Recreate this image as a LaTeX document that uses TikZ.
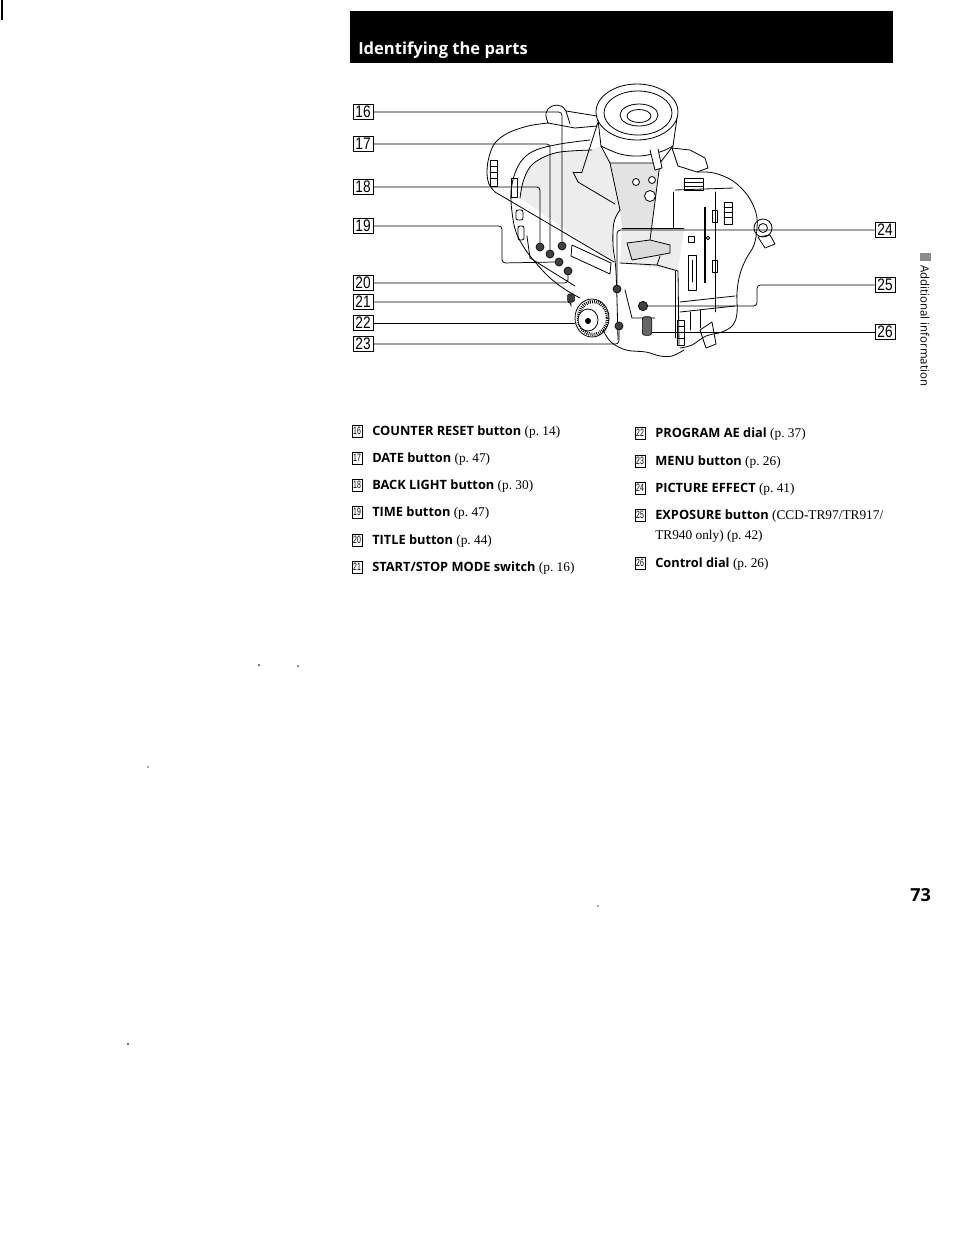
\documentclass[tikz,border=0pt]{standalone}
\usepackage{fontspec}
\usepackage{graphicx}
\setmainfont{Liberation Serif}
\newfontfamily\hsf{Open Sans}
\newfontfamily\numf{Liberation Sans}
\tikzset{
 lead/.style={line width=0.55pt, rounded corners=2.5pt},
 cam/.style={line width=0.6pt, line join=round, line cap=round},
 numbox/.style={draw, line width=0.6pt, minimum width=15pt, minimum height=11.5pt, inner sep=0pt, font=\numf\fontsize{12.5}{12.5}\selectfont},
 btn/.style={circle, draw, fill=black!75, line width=0.5pt, minimum size=6pt, inner sep=0pt},
 item/.style={anchor=base west, inner sep=0pt, font=\fontsize{10}{11}\selectfont},
 lbox/.style={draw, line width=0.45pt, minimum width=7.5pt, minimum height=9pt, inner sep=0pt, font=\numf\fontsize{8}{8}\selectfont},
 speck/.style={fill=black!70},
 shade/.style={fill=black!7},
}
\newcommand{\nb}[1]{\scalebox{0.82}[1]{#1}}
\newcommand{\lb}[1]{\scalebox{0.65}[1]{#1}}
\newcommand{\bs}[1]{{\hsf\bfseries\fontsize{9.6}{11}\selectfont #1}}
\begin{document}
\begin{tikzpicture}[x=0.75pt,y=-0.75pt]
\useasboundingbox (0,0) rectangle (954,1233);
\fill[white] (0,0) rectangle (954,1233);
\fill[black] (1,0) rectangle (3,20);
% header
\fill[black] (350,11) rectangle (893,63);
\node[anchor=base west, text=white, inner sep=0pt, font=\hsf\bfseries\fontsize{12.4}{13}\selectfont] (hdr) at (358,54) {Identifying the parts};

% ---------- camera drawing ----------
% light stipple areas
\fill[shade] plot[smooth,tension=0.6] coordinates {(520,198) (523,182) (530,167) (542,158) (560,152) (592,150)} -- (601,146) -- (610,163) -- (620,210) -- (614,222) -- (613,262) -- cycle;
\fill[black!11] (610,163) -- (660,163) -- (650,240) -- (622,228) -- (620,210) -- cycle;
\fill[shade] (622,228) -- (684,228) -- (678,271) -- (620,263) -- cycle;
% eyecup
\draw[cam] (637,112) ellipse [x radius=41, y radius=28];
\draw[cam] (638,113) ellipse [x radius=34, y radius=22];
\draw[cam] (639,115) ellipse [x radius=19, y radius=11];
\draw[cam] (639,116) ellipse [x radius=12, y radius=6.5];
% collar under cup
\draw[cam] (598,120) -- (601,146);
\draw[cam] (677,118) -- (673,146);
\draw[cam] plot[smooth,tension=0.6] coordinates {(601,146) (620,154) (640,156) (660,152) (673,146)};
% hood bump and top
\draw[cam] plot[smooth,tension=0.7] coordinates {(548,123) (546,113) (552,106) (561,106) (566,111)};
\draw[cam] (566,111) -- (597,116);
\draw[cam] (548,123) -- (575,128) -- (597,126);
\draw[cam] (566,111) -- (570,124);
% body top-left edge
\draw[cam] plot[smooth,tension=0.6] coordinates {(548,123) (528,126) (508,133) (495,143) (489,157) (487,172) (489,184) (495,192)};
% strap / grip
\draw[cam] plot[smooth,tension=0.6] coordinates {(590,140) (560,144) (536,150) (523,159) (515,173) (511,192) (512,212) (516,232) (525,249) (536,263) (550,278) (566,290) (580,298)};
\draw[cam] plot[smooth,tension=0.6] coordinates {(592,150) (560,152) (542,158) (530,167) (523,182) (520,198)};
% main diagonal
\draw[cam] (495,192) -- (614,262);
% loops and slots
\draw[cam] (490,160) rectangle (497,186);
\draw[cam] (490,166) -- (497,166) (490,172) -- (497,172) (490,178) -- (497,178);
\draw[cam] (511,178) rectangle (517,197);
\draw[cam,rounded corners=1.5pt] (516,210) rectangle (523,220);
\draw[cam,rounded corners=1.5pt] (518,226) rectangle (524,240);
% button panel
\draw[cam] (527,236) -- (530,258) -- (575,286);
% LCD
\draw[cam, fill=white] (572,245) -- (611,263) -- (610,274) -- (571,256) -- cycle;
% viewfinder barrel and support
\draw[cam] (598,122) -- (582,172);
\draw[cam] (573,172) -- (582,172);
\draw[cam] (573,172) -- (578,182) -- (615,204);
\draw[cam] (601,146) -- (610,163) -- (660,163) -- (673,146);
\draw[cam] (610,163) -- (620,210);
\draw[cam] (660,163) -- (650,240);
\draw[cam] (622,228) -- (684,228);
\draw[cam, fill=black!14] (627,243) -- (650,240) -- (670,245) -- (670,253) -- (632,260) -- cycle;
\draw[cam, fill=white] (650,150) -- (655,170) -- (662,168) -- (658,149);
\draw[cam, fill=white] (636,182) circle [radius=3.5];
\draw[cam, fill=white] (652,180) circle [radius=3.5];
\draw[cam, fill=white] (650,196) circle [radius=5.5];
% front face left edge
\draw[cam] plot[smooth,tension=0.6] coordinates {(620,210) (614,222) (613,245) (616,272) (618,340)};
% front lower block
\draw[cam] (620,263) -- (657,265) -- (678,271) -- (679,346);
\draw[cam] (657,265) -- (660,256);
\draw[cam] (625,290) -- (632,318) -- (655,318);
% right block on top
\draw[cam] (672,148) -- (690,150) -- (705,158) -- (708,168) -- (697,172) -- (678,166) -- cycle;
\draw[cam] (684,178) rectangle (703,190);
\draw[cam] (684,182) -- (703,182) (684,186) -- (703,186);
% right body outline
\draw[cam] plot[smooth,tension=0.6] coordinates {(697,172) (714,173) (733,181) (748,196) (756,213) (757,228) (754,245) (746,259) (740,274) (737,292) (737,313) (733,325) (722,332) (706,336) (692,345) (680,348)};
% bottom
\draw[cam] plot[smooth,tension=0.6] coordinates {(603,330) (611,342) (626,350) (646,352) (660,356) (672,356) (684,350)};
% battery compartment
\draw[cam] (675,190) -- (733,188);
\draw[cam] (673,192) -- (673,228);
\draw[cam] (675,271) -- (675,338);
\draw[line width=1.1pt] (705,207) -- (705,283);
\draw[cam] (715,192) -- (715,312);
\draw[cam] (688,236) rectangle (694,242);
\draw[cam] (688,255) rectangle (696,290);
\draw[cam] (692,260) -- (692,282);
\draw[cam] (712,210) rectangle (717,222);
\draw[cam] (712,260) rectangle (717,272);
\draw[cam] (708,238) circle [radius=1.8];
\draw[cam] (724,202) rectangle (732,224);
\draw[cam] (724,207) -- (732,207) (724,212) -- (732,212) (724,217) -- (732,217);
\draw[cam] (680,302) -- (735,296);
\draw[cam] (680,312) -- (735,306);
\draw[cam] (690,312) -- (690,330) (700,310) -- (700,328);
\draw[cam] (677,320) rectangle (684,345);
\draw[cam] (677,326) -- (684,326) (677,332) -- (684,332) (677,338) -- (684,338);
\draw[cam] (700,330) -- (712,322) -- (716,344) -- (706,348) -- cycle;
% knob
\draw[cam] (763,228) circle [radius=9];
\draw[cam] (763,228) circle [radius=4.5];
\draw[cam] (758,237) -- (770,235) -- (775,244) -- (765,248) -- cycle;
% dial
\draw[cam] (592,318) ellipse [x radius=17, y radius=19];
\draw[line width=2.6pt, dash pattern=on 0.6pt off 0.9pt] (593,318) ellipse [x radius=14.5, y radius=16.5];
\draw[cam, fill=white] (588,320) ellipse [x radius=10, y radius=11];
\fill (588,321) circle [radius=3];

% buttons
\node[btn] (btn18) at (540,247) {};
\node[btn] (btn17) at (550,254) {};
\node[btn] (btn16) at (562,246) {};
\node[btn] (btn19) at (559,262) {};
\node[btn] (btn20) at (568,271) {};
\node[draw, fill=black!75, rounded corners=1pt, minimum width=5pt, minimum height=6pt, inner sep=0pt] (btn21) at (571,298) {};
\node[btn] (btn24) at (617,289) {};
\node[btn] (btn23) at (619,326) {};
\node[btn, minimum size=7pt] (btn25) at (643,306) {};
\node[draw, fill=black!60, rounded corners=2pt, minimum width=7pt, minimum height=14pt, inner sep=0pt, line width=0.5pt] (btn26) at (647,326) {};
\coordinate (dialW) at (575,322);

% ---------- diagram labels ----------
\node[numbox] (b16) at (363,112) {\nb{16}};
\node[numbox] (b17) at (363,144) {\nb{17}};
\node[numbox] (b18) at (363,187) {\nb{18}};
\node[numbox] (b19) at (363,226) {\nb{19}};
\node[numbox] (b20) at (363,283) {\nb{20}};
\node[numbox] (b21) at (363,302) {\nb{21}};
\node[numbox] (b22) at (363,323) {\nb{22}};
\node[numbox] (b23) at (363,344) {\nb{23}};
\node[numbox] (b24) at (885,230) {\nb{24}};
\node[numbox] (b25) at (885,285) {\nb{25}};
\node[numbox] (b26) at (885,332) {\nb{26}};

\coordinate (c19) at (502,263);
\coordinate (c25) at (757,306);
\draw[lead] (b16.east) -| (btn16.north);
\draw[lead] (b17.east) -| (btn17.north);
\draw[lead] (b18.east) -| (btn18.north);
\draw[lead] (b19.east) -| (c19) -- (btn19.west);
\draw[lead] (b20.east) -| (btn20.south);
\draw[lead] (b21.east) -| (btn21.south);
\draw[lead] (b22.east) -- (b22.east -| dialW);
\draw[lead] (b23.east) -| (btn23.south);
\draw[lead] (b24.west) -| (btn24.north);
\draw[lead] (b25.west) -| (c25) -- (btn25.east);
\draw[lead] (b26.west) -- (b26.west -| btn26.east);

% ---------- parts list ----------
\node[lbox] (l16) at (357,431) {\lb{16}};
\node[item] (t16) at (372,435) {\bs{COUNTER RESET button} (p.~14)};
\node[lbox] (l17) at (357,458) {\lb{17}};
\node[item] (t17) at (372,462) {\bs{DATE button} (p.~47)};
\node[lbox] (l18) at (357,485) {\lb{18}};
\node[item] (t18) at (372,489) {\bs{BACK LIGHT button} (p.~30)};
\node[lbox] (l19) at (357,512) {\lb{19}};
\node[item] (t19) at (372,516) {\bs{TIME button} (p.~47)};
\node[lbox] (l20) at (357,540) {\lb{20}};
\node[item] (t20) at (372,544) {\bs{TITLE button} (p.~44)};
\node[lbox] (l21) at (357,567) {\lb{21}};
\node[item] (t21) at (372,571) {\bs{START/STOP MODE switch} (p.~16)};

\node[lbox] (l22) at (640,433) {\lb{22}};
\node[item] (t22) at (655,437) {\bs{PROGRAM AE dial} (p.~37)};
\node[lbox] (l23) at (640,461) {\lb{23}};
\node[item] (t23) at (655,465) {\bs{MENU button} (p.~26)};
\node[lbox] (l24) at (640,488) {\lb{24}};
\node[item] (t24) at (655,492) {\bs{PICTURE EFFECT} (p.~41)};
\node[lbox] (l25) at (640,515) {\lb{25}};
\node[item] (t25) at (655,519) {\bs{EXPOSURE button} (CCD-TR97/TR917/};
\node[item] (t25b) at (655,539) {TR940 only) (p.~42)};
\node[lbox] (l26) at (640,563) {\lb{26}};
\node[item] (t26) at (655,567) {\bs{Control dial} (p.~26)};

% side tab and page number
\fill[black!45] (920,253) rectangle (931,261);
\node[rotate=-90, anchor=west, inner sep=0pt, font=\hsf\fontsize{8.6}{9}\selectfont] (side) at (925,265) {Additional information};
\node[anchor=base west, inner sep=0pt, font=\hsf\bfseries\fontsize{13.5}{14}\selectfont] (pg) at (910,901) {73};

% scan specks
\fill[speck] (259,665) circle [radius=1.2];
\fill[speck] (298,666) circle [radius=1];
\fill[speck] (148,767) circle [radius=0.9];
\fill[speck] (128,1044) circle [radius=1.1];
\fill[speck] (598,906) circle [radius=0.8];
\end{tikzpicture}
\end{document}
